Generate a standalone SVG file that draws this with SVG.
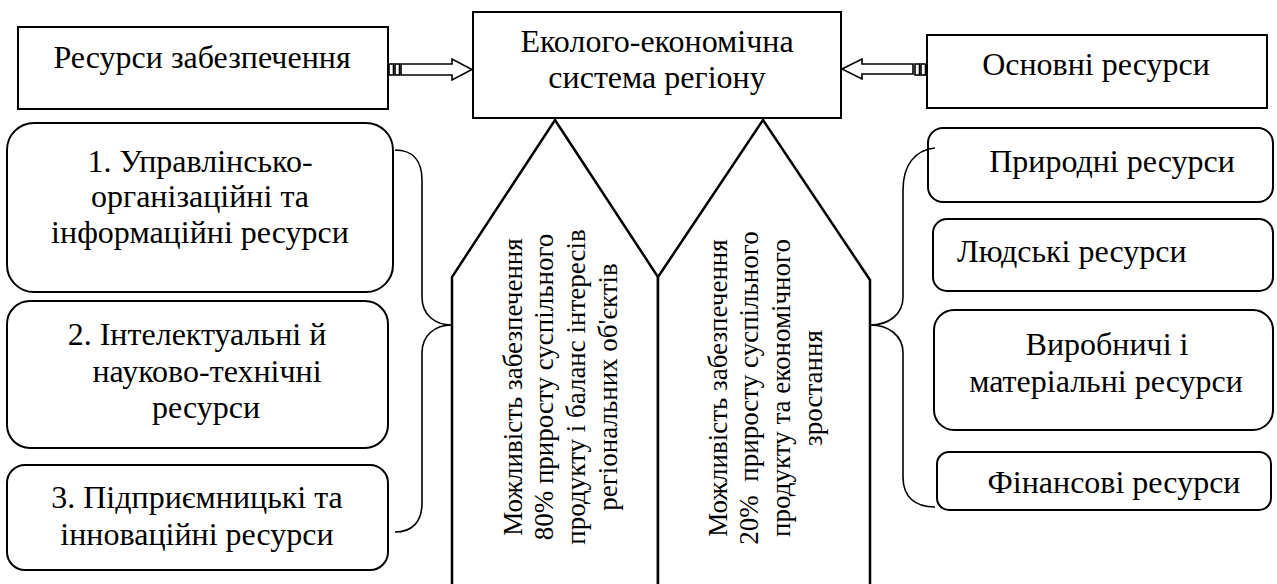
<svg xmlns="http://www.w3.org/2000/svg" width="1277" height="584" viewBox="0 0 1277 584">
  <style>
    .box { fill: #fff; stroke: #000; stroke-width: 2; }
    .penta { fill: #fff; stroke: #000; stroke-width: 2.5; stroke-linejoin: miter; }
    .brace { fill: none; stroke: #000; stroke-width: 1.6; }
    .arrow { fill: #fff; stroke: #000; stroke-width: 1.6; }
    .t { font-family: "Liberation Serif", "Times New Roman", serif; font-size: 32px; fill: #000; }
    .c { text-anchor: middle; }
    .v { font-family: "Liberation Serif", "Times New Roman", serif; font-size: 27px; fill: #000; text-anchor: middle; }
  </style>
  <rect width="1277" height="584" fill="#fff"/>

  <!-- Vertical pentagon panels -->
  <g id="panel-80">
    <polygon class="penta" points="555,120 658,277 658,600 452,600 452,277"/>
    <g transform="translate(0,387) rotate(-90)">
      <text class="v" x="0" y="522">Можливість забезпечення</text>
      <text class="v" x="0" y="553">80% приросту суспільного</text>
      <text class="v" x="0" y="585">продукту і баланс інтересів</text>
      <text class="v" x="0" y="617">регіональних об'єктів</text>
    </g>
  </g>
  <g id="panel-20">
    <polygon class="penta" points="763,120 870,280 870,600 658,600 658,277"/>
    <g transform="translate(0,388) rotate(-90)">
      <text class="v" x="0" y="727">Можливість забезпечення</text>
      <text class="v" x="0" y="758" xml:space="preserve">20%  приросту суспільного</text>
      <text class="v" x="0" y="790">продукту та економічного</text>
      <text class="v" x="0" y="822">зростання</text>
    </g>
  </g>

  <!-- Top row -->
  <g id="supply-resources">
    <rect class="box" x="18" y="27" width="370" height="82"/>
    <text class="t c" x="202" y="68">Ресурси забезпечення</text>
  </g>
  <g id="eco-system">
    <rect class="box" x="473" y="12" width="368" height="106"/>
    <text class="t c" x="657" y="52">Еколого-економічна</text>
    <text class="t c" x="657" y="88">система регіону</text>
  </g>
  <g id="main-resources">
    <rect class="box" x="927" y="35" width="340" height="73"/>
    <text class="t c" x="1096" y="75">Основні ресурси</text>
  </g>

  <!-- Left column -->
  <g id="res-1">
    <rect class="box" x="7" y="123" width="386" height="169" rx="27"/>
    <text class="t c" x="200" y="172">1. Управлінсько-</text>
    <text class="t c" x="200" y="207">організаційні та</text>
    <text class="t c" x="200" y="243">інформаційні ресурси</text>
  </g>
  <g id="res-2">
    <rect class="box" x="7" y="301" width="381" height="147" rx="23"/>
    <text class="t c" x="197" y="345">2. Інтелектуальні й</text>
    <text class="t c" x="207" y="382">науково-технічні</text>
    <text class="t c" x="206" y="418">ресурси</text>
  </g>
  <g id="res-3">
    <rect class="box" x="7" y="465" width="381" height="105" rx="18"/>
    <text class="t c" x="197" y="508">3. Підприємницькі та</text>
    <text class="t c" x="197" y="545">інноваційні ресурси</text>
  </g>

  <!-- Right column -->
  <g id="natural">
    <rect class="box" x="928" y="128" width="345" height="74" rx="15"/>
    <text class="t c" x="1112" y="172">Природні ресурси</text>
  </g>
  <g id="human">
    <rect class="box" x="933" y="219" width="340" height="72" rx="14"/>
    <text class="t" x="957" y="262">Людські ресурси</text>
  </g>
  <g id="production">
    <rect class="box" x="934" y="310" width="339" height="120" rx="20"/>
    <text class="t c" x="1107" y="355">Виробничі і</text>
    <text class="t c" x="1106" y="392">матеріальні ресурси</text>
  </g>
  <g id="financial">
    <rect class="box" x="937" y="452" width="334" height="58" rx="12"/>
    <text class="t c" x="1114" y="493">Фінансові ресурси</text>
  </g>

  <!-- Connectors: block arrows and braces -->
  <g id="connectors">
    <rect class="arrow" x="389" y="64" width="4.5" height="11"/>
    <rect class="arrow" x="395" y="64" width="4.5" height="11"/>
    <polygon class="arrow" points="401,64 452,64 452,59 472,69.5 452,80 452,75 401,75"/>
    <rect class="arrow" x="921" y="64" width="4.5" height="11"/>
    <rect class="arrow" x="915" y="64" width="4.5" height="11"/>
    <polygon class="arrow" points="913,64 862,64 862,59 842,69 862,79 862,74 913,74"/>
    <path class="brace" d="M395,150 C412,150 422,160 422,180 V297 C422,315 435,325 452,325 C435,325 422,335 422,353 V503 C422,522 412,532 395,532"/>
    <path class="brace" d="M935,148 C915,150 903,165 903,190 V297 C903,315 888,325 870,325 C888,325 903,335 903,353 V477 C903,497 915,507 935,507"/>
  </g>
</svg>
